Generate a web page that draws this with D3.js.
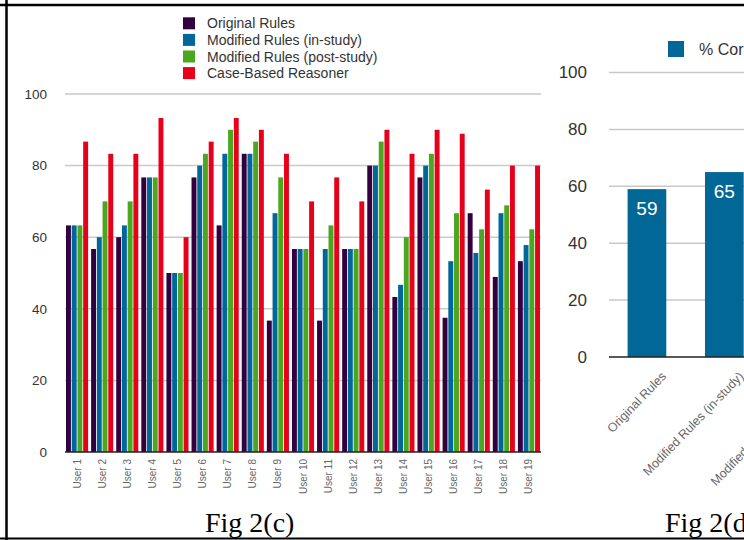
<!DOCTYPE html>
<html>
<head>
<meta charset="utf-8">
<script src="https://cdn.jsdelivr.net/npm/d3@7/dist/d3.min.js"></script>
<style>
  html, body { margin: 0; padding: 0; background: #fff; }
  svg { display: block; }
  svg { font-family: "Liberation Sans", Arial, Helvetica, sans-serif; }
</style>
</head>
<body>
<svg id="chart" width="744" height="540"></svg>
<script>
// ---------- Data: Fig 2(c) ----------
const users = ["User 1","User 2","User 3","User 4","User 5","User 6","User 7","User 8","User 9","User 10",
               "User 11","User 12","User 13","User 14","User 15","User 16","User 17","User 18","User 19"];
const seriesNames = ["Original Rules","Modified Rules (in-study)","Modified Rules (post-study)","Case-Based Reasoner"];
const originalRules  = [63.3,56.7,60,76.7,50,76.7,63.3,83.3,36.7,56.7,36.7,56.7,80,43.3,76.7,37.5,66.7,48.9,53.3];
const modifiedIn     = [63.3,60,63.3,76.7,50,80,83.3,83.3,66.7,56.7,56.7,56.7,80,46.7,80,53.3,55.6,66.7,57.8];
const modifiedPost   = [63.3,70,70,76.7,50,83.3,90,86.7,76.7,56.7,63.3,56.7,86.7,60,83.3,66.7,62.2,68.9,62.2];
const caseBased      = [86.7,83.3,83.3,93.3,60,86.7,93.3,90,83.3,70,76.7,70,90,83.3,90,88.9,73.3,80,80];
const leftTicks = [0,20,40,60,80,100];

// ---------- Data: Fig 2(d) ----------
const avgCategories = ["Original Rules","Modified Rules (in-study)","Modified Rules (post-study)","Case-Based Reasoner"];
const avgValues = [59,65,70,82];
const rightTicks = [0,20,40,60,80,100];
const rightLegend = "% Correct";

const seriesColors = ["#32003e","#00679b","#4aa71f","#e8001b"];
const avgColor = "#006796";
const sans = "'Liberation Sans', Arial, Helvetica, sans-serif";
const serif = "'Liberation Serif', 'Times New Roman', serif";

const svg = d3.select("#chart");

// ---------- Frame ----------
svg.append("line").attr("x1",0).attr("x2",744).attr("y1",5).attr("y2",5)
  .attr("stroke","#000").attr("stroke-width",2.5);
svg.append("line").attr("x1",6.5).attr("x2",6.5).attr("y1",0).attr("y2",540)
  .attr("stroke","#000").attr("stroke-width",2.5);
svg.append("line").attr("x1",0).attr("x2",744).attr("y1",538.5).attr("y2",538.5)
  .attr("stroke","#000").attr("stroke-width",2);

// ---------- Left chart ----------
const L = {left:65, right:541, top:94, bottom:452};
const yL = d3.scaleLinear().domain([0,100]).range([L.bottom, L.top]);
const x0 = d3.scaleBand().domain(users).range([L.left, L.right]).paddingInner(0.12).paddingOuter(0.04);
const x1 = d3.scaleBand().domain(seriesNames).range([0, x0.bandwidth()]).paddingInner(0.14);
const seriesData = [originalRules, modifiedIn, modifiedPost, caseBased];

const gL = svg.append("g");
gL.selectAll("line.grid").data(leftTicks.filter(d=>d>0)).join("line")
  .attr("x1",L.left).attr("x2",L.right)
  .attr("y1",d=>yL(d)).attr("y2",d=>yL(d))
  .attr("stroke","#c9c9c9").attr("stroke-width",1.5);

const axL = d3.axisLeft(yL).tickValues(leftTicks).tickSize(0).tickPadding(18);
const axLg = gL.append("g").attr("transform",`translate(${L.left},0)`).call(axL);
axLg.select(".domain").remove();
axLg.attr("font-family",sans);
axLg.selectAll("text").attr("font-size",13.5).attr("fill","#333");

const groups = gL.selectAll("g.user").data(users).join("g")
  .attr("transform",d=>`translate(${x0(d)},0)`);
groups.selectAll("rect").data((u,i)=>seriesNames.map((s,k)=>({s, v:seriesData[k][i], k})))
  .join("rect")
  .attr("x",d=>x1(d.s)).attr("width",x1.bandwidth())
  .attr("y",d=>yL(d.v)).attr("height",d=>yL(0)-yL(d.v))
  .attr("fill",d=>seriesColors[d.k]);

gL.append("line").attr("x1",L.left).attr("x2",L.right)
  .attr("y1",L.bottom).attr("y2",L.bottom).attr("stroke","#222").attr("stroke-width",1.5);

const axX = d3.axisBottom(x0).tickSize(0).tickPadding(0);
const axXg = gL.append("g").attr("transform",`translate(0,${L.bottom})`).call(axX);
axXg.select(".domain").remove();
axXg.attr("font-family",sans);
axXg.selectAll("text")
  .attr("font-size",10).attr("fill","#666")
  .attr("text-anchor","end")
  .attr("transform","translate(3.5,7) rotate(-90)")
  .attr("dy",0).attr("y",0).attr("x",0);

const leg = gL.append("g");
seriesNames.forEach((s,i)=>{
  const cy = 23.3 + i*16.6;
  leg.append("rect").attr("x",183).attr("y",cy-6).attr("width",12).attr("height",12)
    .attr("fill",seriesColors[i]);
  leg.append("text").attr("x",207).attr("y",cy+5).attr("font-size",14).attr("fill","#333").text(s);
});

svg.append("text").attr("x",205).attr("y",532).attr("font-size",28)
  .style("font-family",serif).attr("fill","#000")
  .text("Fig 2(c)");

// ---------- Right chart ----------
const R = {left:609, top:72.5, bottom:357};
const yR = d3.scaleLinear().domain([0,100]).range([R.bottom, R.top]);
const xR = d3.scaleBand().domain(avgCategories).range([R.left, R.left + 77.4*3.98]).paddingInner(0.5).paddingOuter(0.24);

const gR = svg.append("g");
gR.selectAll("line.grid").data(rightTicks.filter(d=>d>0)).join("line")
  .attr("x1",R.left).attr("x2",760)
  .attr("y1",d=>yR(d)).attr("y2",d=>yR(d))
  .attr("stroke","#c9c9c9").attr("stroke-width",1.5);

const axR = d3.axisLeft(yR).tickValues(rightTicks).tickSize(0).tickPadding(22);
const axRg = gR.append("g").attr("transform",`translate(${R.left},0)`).call(axR);
axRg.select(".domain").remove();
axRg.attr("font-family",sans);
axRg.selectAll("text").attr("font-size",17).attr("fill","#333");

gR.selectAll("rect.bar").data(avgCategories).join("rect")
  .attr("x",d=>xR(d)).attr("width",xR.bandwidth())
  .attr("y",(d,i)=>yR(avgValues[i])).attr("height",(d,i)=>yR(0)-yR(avgValues[i]))
  .attr("fill",avgColor);

gR.selectAll("text.val").data(avgCategories).join("text")
  .attr("x",d=>xR(d)+xR.bandwidth()/2).attr("y",(d,i)=>yR(avgValues[i])+26)
  .attr("text-anchor","middle").attr("font-size",19).attr("fill","#fff")
  .text((d,i)=>avgValues[i]);

gR.append("line").attr("x1",R.left).attr("x2",760)
  .attr("y1",R.bottom).attr("y2",R.bottom).attr("stroke","#222").attr("stroke-width",1.5);

const axRX = d3.axisBottom(xR).tickSize(0).tickPadding(0);
const axRXg = gR.append("g").attr("transform",`translate(0,${R.bottom})`).call(axRX);
axRXg.select(".domain").remove();
axRXg.attr("font-family",sans);
axRXg.selectAll("text")
  .attr("font-size",12.5).attr("fill","#666")
  .attr("text-anchor","end").attr("dy",0).attr("y",0)
  .attr("transform","translate(20,20) rotate(-46)");

gR.append("rect").attr("x",668).attr("y",41).attr("width",16).attr("height",16).attr("fill",avgColor);
gR.append("text").attr("x",699).attr("y",55).attr("font-size",16).attr("fill","#333").text(rightLegend);

svg.append("text").attr("x",665).attr("y",532).attr("font-size",28)
  .style("font-family",serif).attr("fill","#000")
  .text("Fig 2(d)");
</script>
</body>
</html>
